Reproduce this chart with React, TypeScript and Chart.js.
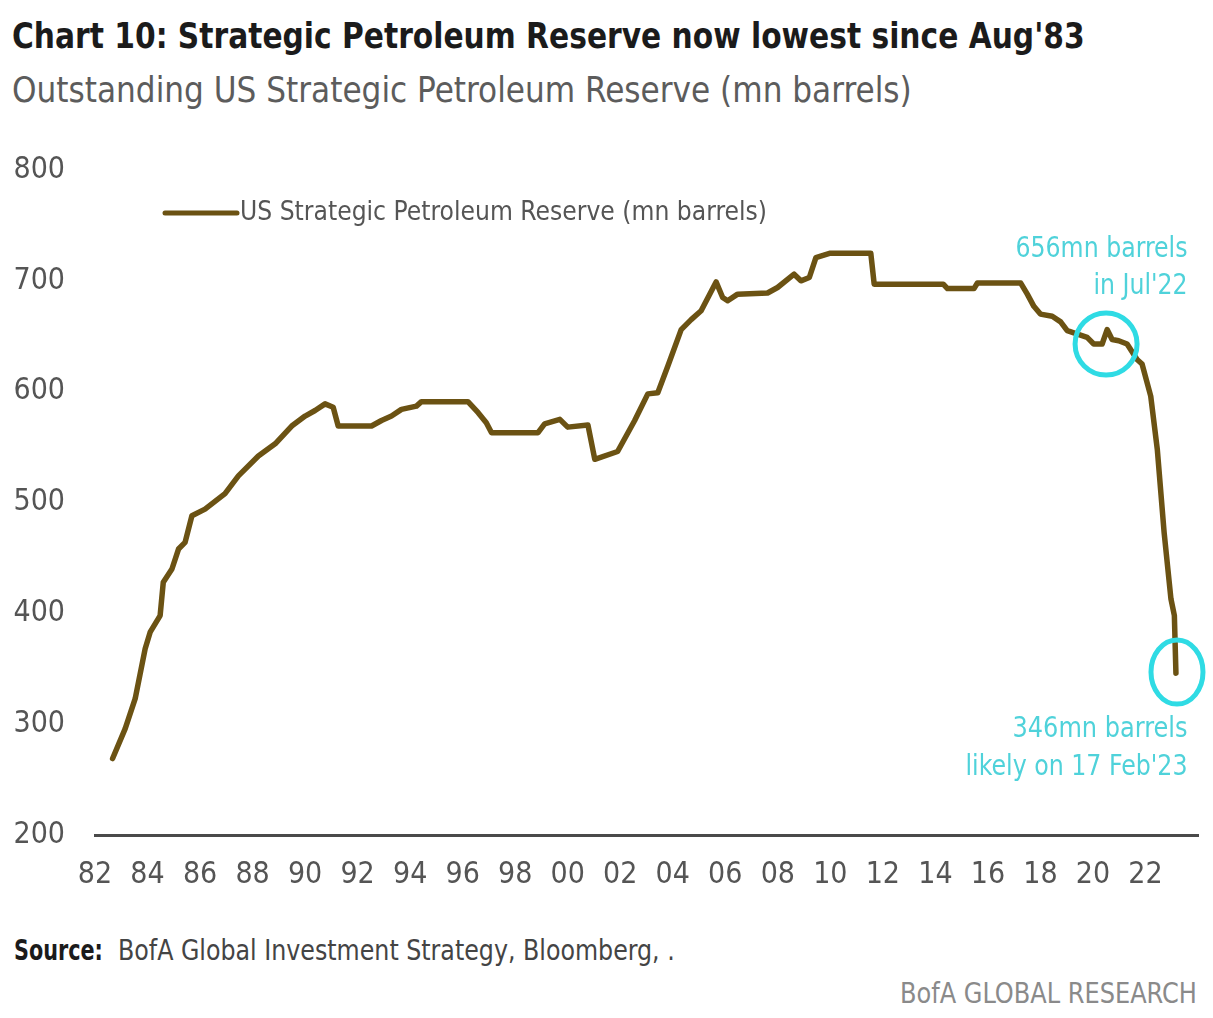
import { useEffect, useLayoutEffect, useRef, useState } from "react";
import { Chart, registerables } from "chart.js";

Chart.register(...registerables);

// reading of the line, decimal year vs mn barrels
const years = [
  1982.67, 1983.15, 1983.53, 1983.91, 1984.1, 1984.48, 1984.6, 1984.93, 1985.18, 1985.43,
  1985.69, 1986.19, 1986.95, 1987.46, 1988.22, 1988.86, 1989.49, 1990.0, 1990.38, 1990.76,
  1991.07, 1991.26, 1992.53, 1992.91, 1993.29, 1993.67, 1994.24, 1994.43, 1996.2, 1996.59,
  1996.9, 1997.1, 1998.87, 1999.12, 1999.7, 2000.0, 2000.77, 2001.03, 2001.9, 2002.55,
  2003.05, 2003.43, 2003.81, 2004.32, 2004.7, 2005.08, 2005.65, 2005.9, 2006.09, 2006.47,
  2007.61, 2007.99, 2008.62, 2008.88, 2009.2, 2009.45, 2010.0, 2011.54, 2011.67, 2012.8,
  2014.3, 2014.46, 2015.47, 2015.6, 2017.25, 2017.5, 2017.75, 2018.0, 2018.45, 2018.77,
  2019.02, 2019.78, 2020.03, 2020.35, 2020.54, 2020.73, 2020.98, 2021.3, 2021.68, 2021.87,
  2022.2, 2022.45, 2022.71, 2022.97, 2023.1, 2023.16,
];
const reserve = [
  269, 296, 323, 368, 383, 398, 428, 440, 458, 464,
  488, 494, 508, 524, 542, 553, 569, 578, 583, 589,
  586, 569, 569, 574, 578, 584, 587, 591, 591, 581,
  572, 563, 563, 571, 575, 568, 570, 539, 546, 574,
  598, 599, 623, 656, 665, 673, 699, 685, 682, 688,
  689, 694, 706, 700, 703, 721, 725, 725, 697, 697,
  697, 693, 693, 698, 698, 688, 677, 670, 668, 663,
  655, 649, 643, 643, 656, 647, 646, 643, 629, 625,
  596, 548, 473, 413, 398, 346,
];

const xTickYears = [
  1982, 1984, 1986, 1988, 1990, 1992, 1994, 1996, 1998, 2000, 2002,
  2004, 2006, 2008, 2010, 2012, 2014, 2016, 2018, 2020, 2022,
];
const yTickValues = [200, 300, 400, 500, 600, 700, 800];

const seriesLabel = "US Strategic Petroleum Reserve (mn barrels)";

// highlighted points: [year, value]
const highlights = [
  [2020.5, 643],
  [2023.2, 347],
];
const noteTop = ["656mn barrels", "in Jul'22"];
const noteBottom = ["346mn barrels", "likely on 17 Feb'23"];

const FONT = '"Liberation Sans Narrow", "DejaVu Sans Condensed", "Open Sans", sans-serif';
const LINE = "#6b5213";
const CYAN = "#2fdbe4";
const CYAN_TEXT = "#4fd2da";
const GREY = "#555";

function drawFitted(
  ctx: CanvasRenderingContext2D,
  text: string,
  x: number,
  y: number,
  width: number,
  align: "left" | "right",
) {
  const w = ctx.measureText(text).width;
  const k = width / w;
  ctx.save();
  ctx.translate(x, y);
  ctx.scale(k, 1);
  ctx.textAlign = align;
  ctx.fillText(text, 0, 0);
  ctx.restore();
}

const notesPlugin = {
  id: "notes",
  afterDatasetsDraw(chart: Chart) {
    const { ctx, chartArea, scales } = chart;
    const x = scales.x;
    const y = scales.y;
    ctx.save();

    // legend inside the plot
    const ly = chartArea.top + 43;
    ctx.strokeStyle = LINE;
    ctx.lineWidth = 5;
    ctx.lineCap = "round";
    ctx.beginPath();
    ctx.moveTo(chartArea.left + 70, ly);
    ctx.lineTo(chartArea.left + 142, ly);
    ctx.stroke();
    ctx.fillStyle = GREY;
    ctx.font = `27px ${FONT}`;
    ctx.textBaseline = "middle";
    drawFitted(ctx, seriesLabel, chartArea.left + 145, ly, 527, "left");

    // circles
    ctx.strokeStyle = CYAN;
    ctx.lineWidth = 5;
    highlights.forEach(([hx, hy], i) => {
      ctx.beginPath();
      ctx.ellipse(
        x.getPixelForValue(hx),
        y.getPixelForValue(hy),
        i === 0 ? 31 : 26,
        i === 0 ? 31 : 32,
        0,
        0,
        Math.PI * 2,
      );
      ctx.stroke();
    });

    // notes
    ctx.fillStyle = CYAN_TEXT;
    ctx.font = `28px ${FONT}`;
    const rx = x.getPixelForValue(2023.6);
    drawFitted(ctx, noteTop[0], rx, y.getPixelForValue(728), 172, "right");
    drawFitted(ctx, noteTop[1], rx, y.getPixelForValue(695), 94, "right");
    drawFitted(ctx, noteBottom[0], rx, y.getPixelForValue(295), 175, "right");
    drawFitted(ctx, noteBottom[1], rx, y.getPixelForValue(261), 222, "right");
    ctx.restore();
  },
};

function FitText({
  text,
  width,
  style,
}: {
  text: string;
  width: number;
  style: React.CSSProperties;
}) {
  const ref = useRef<HTMLSpanElement | null>(null);
  const [k, setK] = useState(1);
  useLayoutEffect(() => {
    if (!ref.current) return;
    const w = ref.current.offsetWidth;
    if (w > 0) setK(width / w);
  }, [text, width]);
  return (
    <span
      ref={ref}
      style={{
        position: "absolute",
        whiteSpace: "nowrap",
        transformOrigin: "left top",
        transform: `scaleX(${k})`,
        ...style,
      }}
    >
      {text}
    </span>
  );
}

export default function App() {
  const canvasRef = useRef<HTMLCanvasElement | null>(null);

  useEffect(() => {
    if (!canvasRef.current) return;
    const chart = new Chart(canvasRef.current, {
      type: "line",
      data: {
        datasets: [
          {
            label: seriesLabel,
            data: years.map((yr, i) => ({ x: yr, y: reserve[i] })),
            borderColor: LINE,
            borderWidth: 5.5,
            pointRadius: 0,
            tension: 0,
            borderJoinStyle: "round",
            borderCapStyle: "round",
          },
        ],
      },
      options: {
        animation: false,
        responsive: true,
        maintainAspectRatio: false,
        layout: { padding: { top: 30, right: 15, left: 0, bottom: 0 } },
        plugins: {
          legend: { display: false },
          tooltip: { enabled: false },
        },
        scales: {
          x: {
            type: "linear",
            min: 1982,
            max: 2024,
            afterBuildTicks: (s) => {
              s.ticks = xTickYears.map((v) => ({ value: v }));
            },
            afterFit: (s) => {
              s.height = 65;
            },
            grid: { display: false, drawTicks: false },
            border: { display: true, color: "#4a4a4a", width: 3 },
            ticks: {
              padding: 22,
              color: GREY,
              font: { family: FONT, size: 30 },
              maxRotation: 0,
              autoSkip: false,
              callback: (v) => String(Number(v) % 100).padStart(2, "0"),
            },
          },
          y: {
            min: 200,
            max: 800,
            afterBuildTicks: (s) => {
              s.ticks = yTickValues.map((v) => ({ value: v }));
            },
            afterFit: (s) => {
              s.width = 95;
              s.paddingTop = 0;
              s.paddingBottom = 0;
            },
            grid: { display: false, drawTicks: false },
            border: { display: false },
            ticks: {
              padding: 30,
              color: GREY,
              font: { family: FONT, size: 30 },
            },
          },
        },
      },
      plugins: [notesPlugin],
    });
    return () => {
      chart.destroy();
    };
  }, []);

  return (
    <div
      style={{
        position: "absolute",
        left: 0,
        top: 0,
        width: 1213,
        height: 1018,
        background: "#fff",
        fontFamily: FONT,
        overflow: "hidden",
      }}
    >
      <FitText
        text="Chart 10: Strategic Petroleum Reserve now lowest since Aug'83"
        width={1073}
        style={{ left: 12, top: 14, fontSize: 36, lineHeight: "44px", fontWeight: 700, color: "#1b1b1b" }}
      />
      <FitText
        text="Outstanding US Strategic Petroleum Reserve (mn barrels)"
        width={900}
        style={{ left: 12, top: 68, fontSize: 36, lineHeight: "44px", color: "#5c5c5c" }}
      />
      <div style={{ position: "absolute", left: 0, top: 140, width: 1213, height: 760 }}>
        <canvas ref={canvasRef} />
      </div>
      <FitText
        text="Source:"
        width={89}
        style={{ left: 14, top: 934, fontSize: 28, lineHeight: "34px", fontWeight: 700, color: "#1b1b1b" }}
      />
      <FitText
        text="BofA Global Investment Strategy, Bloomberg, ."
        width={557}
        style={{ left: 118, top: 934, fontSize: 28, lineHeight: "34px", color: "#444" }}
      />
      <FitText
        text="BofA GLOBAL RESEARCH"
        width={297}
        style={{ left: 900, top: 977, fontSize: 28, lineHeight: "34px", color: "#8a8a8a" }}
      />
    </div>
  );
}
